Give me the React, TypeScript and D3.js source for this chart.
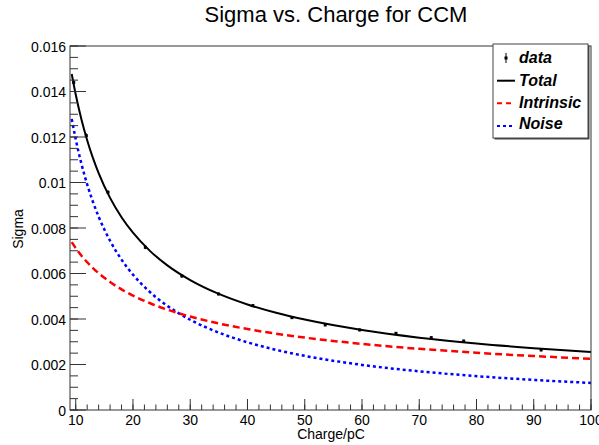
import React from "react";
import * as d3 from "d3";

// Measured data points (charge in pC, sigma)
const dataCharge = [9.65, 11.85, 15.64, 22.16, 28.53, 34.93, 40.94, 47.76, 53.58, 59.58, 65.94, 72.1, 77.76, 91.29];
const dataSigma = [0.0144, 0.01206, 0.00957, 0.00715, 0.00589, 0.0051, 0.00459, 0.00406, 0.00374, 0.00352, 0.00337, 0.00318, 0.00303, 0.00264];
const dataErr = [0.00012, 0.0001, 0.00009, 0.00008, 0.00007, 0.00006, 0.00006, 0.00006, 0.00006, 0.00006, 0.00006, 0.00006, 0.00006, 0.00006];

// Curves at sample charges
const curveCharge = [9.3, 10, 11, 12, 13, 14, 16, 18, 20, 23, 26, 30, 35, 40, 45, 50, 60, 70, 80, 90, 100];
const totalSigma = [0.01477, 0.013865, 0.012769, 0.011855, 0.011079, 0.010412, 0.009325, 0.008475, 0.007792, 0.006984, 0.006358, 0.005711, 0.005101, 0.004638, 0.004271, 0.003974, 0.003517, 0.003181, 0.002923, 0.002716, 0.002545];
const intrinsicSigma = [0.007378, 0.007115, 0.006784, 0.006495, 0.00624, 0.006013, 0.005625, 0.005303, 0.005031, 0.004692, 0.004413, 0.004108, 0.003803, 0.003558, 0.003354, 0.003182, 0.002905, 0.002689, 0.002516, 0.002372, 0.00225];
const noiseSigma = [0.012796, 0.0119, 0.010818, 0.009917, 0.009154, 0.0085, 0.007438, 0.006611, 0.00595, 0.005174, 0.004577, 0.003967, 0.0034, 0.002975, 0.002644, 0.00238, 0.001983, 0.0017, 0.001488, 0.001322, 0.00119];

const xTicks = [10, 20, 30, 40, 50, 60, 70, 80, 90, 100];
const yTicks = [0, 0.002, 0.004, 0.006, 0.008, 0.01, 0.012, 0.014, 0.016];
const yTickLabels = ["0", "0.002", "0.004", "0.006", "0.008", "0.01", "0.012", "0.014", "0.016"];
const legendLabels = ["data", "Total", "Intrinsic", "Noise"];

const W = 599;
const H = 445;
const L = 70, R = 591, T = 46, B = 410;
const FONT = "'Liberation Sans', Arial, Helvetica, sans-serif";
const AX = "#333";

export default function App() {
  const x = d3.scaleLinear().domain([9, 100]).range([L, R]);
  const y = d3.scaleLinear().domain([0, 0.016]).range([B, T]);

  const mk = (vals: number[]) =>
    d3
      .line<number>()
      .x((_, i) => x(curveCharge[i]))
      .y((v) => y(v))
      .curve(d3.curveMonotoneX)(vals) || "";

  const xMinor = d3.range(10, 100.01, 2);
  const yMinor = d3.range(0, 0.01601, 0.0005);

  const lx = 493, ly = 44, lw = 95, lh = 94;
  const rowY = [58, 80.7, 103.3, 126];
  const textBase = [63.3, 86, 108.3, 129.3];

  return (
    <svg width={W} height={H} style={{ position: "absolute", left: 0, top: 0, background: "#fff" }} fontFamily={FONT}>
      <rect x={0} y={0} width={W} height={H} fill="#fff" />
      <text x={336} y={21.5} fontSize={22} textAnchor="middle" fill="#000">
        Sigma vs. Charge for CCM
      </text>

      {/* curves */}
      <path d={mk(noiseSigma)} fill="none" stroke="#0000ff" strokeWidth={2.5} strokeDasharray="3,3" />
      <path d={mk(intrinsicSigma)} fill="none" stroke="#ff0000" strokeWidth={2.5} strokeDasharray="7,4" />
      <path d={mk(totalSigma)} fill="none" stroke="#000" strokeWidth={2} />

      {/* data points */}
      {dataCharge.map((c, i) => (
        <g key={i}>
          <line x1={x(c)} x2={x(c)} y1={y(dataSigma[i] + dataErr[i])} y2={y(dataSigma[i] - dataErr[i])} stroke="#000" strokeWidth={1} />
          <rect x={x(c) - 1.5} y={y(dataSigma[i]) - 1.5} width={3} height={3} fill="#000" />
        </g>
      ))}

      {/* frame */}
      <rect x={L} y={T} width={R - L} height={B - T} fill="none" stroke={AX} strokeWidth={1} />

      {/* x ticks */}
      {xMinor.map((v) => (
        <line key={"xm" + v} x1={x(v)} x2={x(v)} y1={B} y2={B - 5.5} stroke={AX} />
      ))}
      {xTicks.map((v) => (
        <g key={"x" + v}>
          <line x1={x(v)} x2={x(v)} y1={B} y2={B - 11} stroke={AX} />
          <text x={x(v)} y={424.5} fontSize={14} textAnchor="middle" fill="#000">
            {v}
          </text>
        </g>
      ))}

      {/* y ticks */}
      {yMinor.map((v, i) => (
        <line key={"ym" + i} x1={L} x2={L + 8} y1={y(v)} y2={y(v)} stroke={AX} />
      ))}
      {yTicks.map((v, i) => (
        <g key={"y" + i}>
          <line x1={L} x2={L + 16} y1={y(v)} y2={y(v)} stroke={AX} />
          <text x={66} y={y(v) + 5.5} fontSize={14} textAnchor="end" fill="#000">
            {yTickLabels[i]}
          </text>
        </g>
      ))}

      <text x={331} y={439} fontSize={14} textAnchor="middle" fill="#000">
        Charge/pC
      </text>
      <text transform={`translate(23,229) rotate(-90)`} fontSize={14} textAnchor="middle" fill="#000">
        Sigma
      </text>

      {/* legend */}
      <rect x={lx + 1.5} y={ly + 1.5} width={lw} height={lh} fill="#444" />
      <rect x={lx} y={ly} width={lw} height={lh} fill="#fff" stroke="#444" strokeWidth={1} />
      <line x1={506} x2={506} y1={53} y2={63} stroke="#000" strokeWidth={1} />
      <rect x={504.5} y={rowY[0] - 1.5} width={3} height={3} fill="#000" />
      <line x1={497} x2={515} y1={rowY[1]} y2={rowY[1]} stroke="#000" strokeWidth={2} />
      <line x1={497} x2={515} y1={rowY[2]} y2={rowY[2]} stroke="#ff0000" strokeWidth={2} strokeDasharray="5,4" />
      <line x1={497} x2={515} y1={rowY[3]} y2={rowY[3]} stroke="#0000ff" strokeWidth={2} strokeDasharray="3,3" />
      {legendLabels.map((t, i) => (
        <text key={t} x={519} y={textBase[i]} fontSize={16} fontWeight="bold" fontStyle="italic" fill="#000">
          {t}
        </text>
      ))}
    </svg>
  );
}
